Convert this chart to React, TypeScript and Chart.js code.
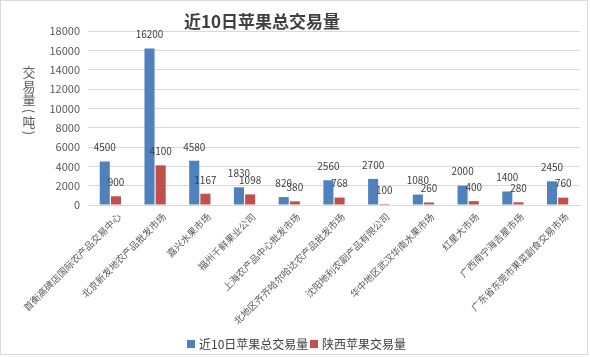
import React, { useEffect, useRef } from "react";
import { Chart, registerables } from "chart.js";

Chart.register(...registerables);

const categories = [
  "首衡高碑店国际农产品交易中心",
  "北京新发地农产品批发市场",
  "嘉兴水果市场",
  "福州千鲜果业公司",
  "上海农产品中心批发市场",
  "北地区齐齐哈尔哈达农产品批发市场",
  "沈阳地利农副产品有限公司",
  "华中地区武汉华南水果市场",
  "红星大市场",
  "广西南宁海吉星市场",
  "广东省东莞市果菜副食交易市场",
];
const totalVolume = [4500, 16200, 4580, 1830, 820, 2560, 2700, 1080, 2000, 1400, 2450];
const shaanxiVolume = [900, 4100, 1167, 1098, 380, 768, 100, 260, 400, 280, 760];
const seriesNames = ["近10日苹果总交易量", "陕西苹果交易量"];
const seriesColors = ["#4F81BD", "#C0504D"];
const titleText = "近10日苹果总交易量";
const yTitleChars = ["交", "易", "量", "(", "吨", ")"];

const FONT = '"Noto Sans CJK SC", "Microsoft YaHei", sans-serif';

export default function App() {
  const ref = useRef<HTMLCanvasElement>(null);
  useEffect(() => {
    document.body.style.margin = "0";
    const ctx = ref.current!;
    const decorPlugin = {
      id: "decor",
      beforeDraw(chart: any) {
        const c = chart.ctx;
        c.save();
        c.fillStyle = "#ffffff";
        c.fillRect(0, 0, chart.width, chart.height);
        c.restore();
      },
      afterDraw(chart: any) {
        const c = chart.ctx;
        c.save();
        c.strokeStyle = "#D9D9D9";
        c.lineWidth = 1;
        c.strokeRect(0.5, 0.5, chart.width - 3, chart.height - 3);
        // title
        c.fillStyle = "#404040";
        c.font = `bold 17px ${FONT}`;
        c.textAlign = "center";
        c.textBaseline = "middle";
        c.fillText(titleText, 262, 22);
        // y-axis title, stacked vertically
        c.font = `13px ${FONT}`;
        c.fillStyle = "#595959";
        const ys = [72, 86, 99, 111, 122, 133];
        yTitleChars.forEach((ch, i) => {
          c.save();
          c.translate(29, ys[i]);
          if (ch === "(" || ch === ")") c.rotate(Math.PI / 2);
          c.fillText(ch, 0, 0);
          c.restore();
        });
        // data labels
        c.font = `10px ${FONT}`;
        c.fillStyle = "#404040";
        chart.data.datasets.forEach((ds: any, di: number) => {
          const meta = chart.getDatasetMeta(di);
          meta.data.forEach((bar: any, i: number) => {
            c.fillText(String(ds.data[i]), bar.x, bar.y - 14);
          });
        });
        // legend
        c.font = `12px ${FONT}`;
        c.textAlign = "left";
        const lx = [187, 310];
        seriesNames.forEach((name, i) => {
          c.fillStyle = seriesColors[i];
          c.fillRect(lx[i], 340, 8, 8);
          c.fillStyle = "#404040";
          c.fillText(name, lx[i] + 12, 344);
        });
        c.restore();
      },
    };
    const chart = new Chart(ctx, {
      type: "bar",
      data: {
        labels: categories,
        datasets: seriesNames.map((name, i) => ({
          label: name,
          data: i === 0 ? totalVolume : shaanxiVolume,
          backgroundColor: seriesColors[i],
          categoryPercentage: 0.5,
          barPercentage: 0.9,
        })),
      },
      options: {
        animation: false,
        responsive: false,
        layout: { padding: { top: 31, right: 10, left: 0, bottom: 0 } },
        plugins: {
          legend: { display: false },
          title: { display: false },
          tooltip: { enabled: false },
        },
        scales: {
          x: {
            grid: { display: false, drawTicks: false },
            border: { color: "#D9D9D9" },
            ticks: {
              minRotation: 45,
              maxRotation: 45,
              autoSkip: false,
              padding: 6,
              labelOffset: 9,
              color: "#595959",
              font: { family: FONT, size: 9.5 },
            },
            afterFit(scale: any) {
              scale.height = 152;
              scale.paddingLeft = 0;
              scale.paddingRight = 0;
            },
          },
          y: {
            min: 0,
            max: 18000,
            grid: { color: "#D9D9D9", drawTicks: false },
            border: { display: false },
            ticks: {
              stepSize: 2000,
              padding: 8,
              color: "#595959",
              font: { family: FONT, size: 11 },
              callback: (v: any) => String(v),
            },
            afterFit(scale: any) {
              scale.width = 88;
              scale.paddingTop = 0;
              scale.paddingBottom = 0;
            },
          },
        },
      },
      plugins: [decorPlugin],
    });
    return () => chart.destroy();
  }, []);
  return <canvas ref={ref} width={590} height={357} style={{ display: "block" }} />;
}
